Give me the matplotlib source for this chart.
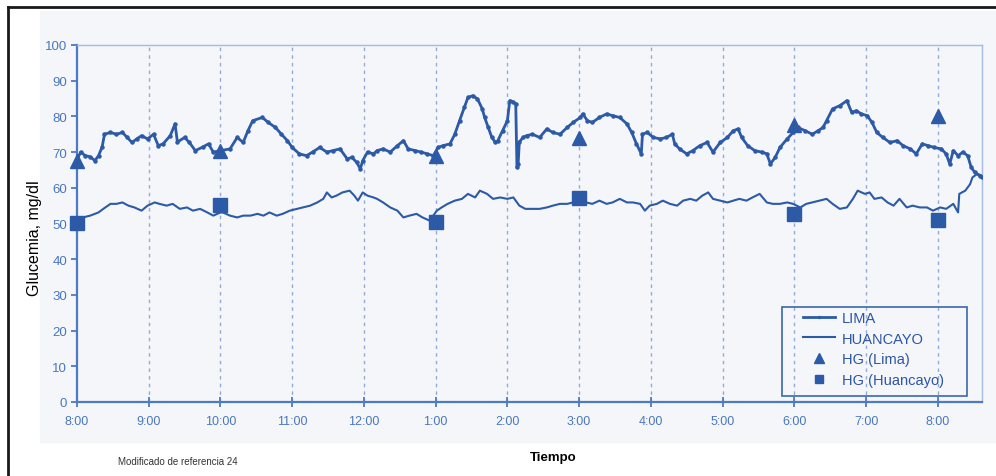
import matplotlib
matplotlib.use("Agg")
import matplotlib.pyplot as plt
from matplotlib.patches import Rectangle
from matplotlib.lines import Line2D

plt.rcParams['font.family'] = ['Liberation Sans', 'DejaVu Sans']

# minutes after 8:00 and glucose values (mg/dl)
lima_min = [0, 3, 7, 11, 15, 18, 21, 23, 28, 33, 38, 42, 46, 50, 54, 59, 64, 68, 72, 78,
            82, 84, 90, 94, 99, 105, 110, 114, 120, 128, 134, 139, 143, 147, 155, 160, 166, 171, 176, 180,
            186, 192, 197, 203, 209, 214, 220, 226, 230, 234, 237, 239, 243, 248, 251, 256, 262, 268, 273, 277,
            283, 288, 293, 298, 302, 306, 312, 316, 320, 324, 327, 331, 335, 339, 341, 344, 347, 350, 352, 356,
            360, 362, 365, 367, 368, 369, 370, 373, 376, 381, 387, 393, 398, 404, 410, 415, 421, 423, 427, 431,
            437, 443, 448, 454, 460, 464, 468, 472, 473, 477, 482, 488, 493, 498, 500, 504, 510, 515, 521, 527,
            532, 538, 544, 549, 553, 556, 561, 567, 573, 577, 580, 584, 588, 594, 599, 603, 609, 615, 620, 624,
            627, 632, 638, 644, 648, 652, 656, 661, 665, 669, 674, 680, 686, 691, 697, 702, 707, 712, 717, 723,
            727, 730, 733, 737, 741, 745, 748, 751, 755, 757]
lima_val = [67.8, 70.0, 69.0, 68.7, 67.6, 69.0, 71.4, 75.0, 75.5, 75.0, 75.5, 74.1, 72.7, 73.7, 74.6, 73.7, 75.0, 71.8, 72.3, 74.6,
            77.9, 72.8, 74.1, 72.7, 70.4, 71.4, 72.3, 70.0, 70.4, 70.9, 74.1, 72.7, 76.0, 78.8, 79.7, 78.3, 76.9, 75.0, 73.2, 71.3,
            69.5, 69.0, 70.0, 71.3, 70.0, 70.4, 70.9, 68.1, 68.5, 67.1, 65.3, 67.6, 70.0, 69.5, 70.4, 70.9, 70.0, 71.8, 73.2, 70.9,
            70.4, 70.0, 69.5, 69.0, 71.3, 71.8, 72.3, 75.0, 78.8, 82.5, 85.3, 85.8, 84.9, 82.1, 79.7, 76.9, 74.1, 72.7, 73.2, 76.0,
            78.8, 84.4, 84.0, 83.5, 65.7, 66.7, 72.8, 74.1, 74.6, 75.0, 74.1, 76.5, 75.5, 75.0, 76.9, 78.3, 79.7, 80.7, 78.8, 78.3,
            79.7, 80.7, 80.2, 79.7, 77.9, 75.5, 72.3, 69.5, 75.0, 75.5, 74.1, 73.7, 74.1, 75.0, 72.3, 70.9, 69.5, 70.4, 71.8, 72.7,
            70.0, 72.7, 74.1, 76.0, 76.5, 74.1, 71.8, 70.4, 70.0, 69.5, 66.7, 68.5, 71.3, 73.7, 75.5, 76.9, 76.0, 75.0, 76.0, 76.9,
            78.8, 82.1, 83.0, 84.4, 81.1, 81.6, 80.7, 80.2, 78.3, 75.5, 74.1, 72.7, 73.2, 71.8, 70.9, 69.5, 72.3, 71.8, 71.3, 70.9,
            69.5, 66.7, 70.4, 69.0, 70.0, 69.0, 65.7, 64.3, 63.4, 63.0]

huan_min = [0, 5, 11, 18, 22, 28, 33, 38, 43, 48, 54, 59, 65, 69, 75, 80, 86, 92, 97, 103,
            109, 114, 120, 122, 128, 134, 139, 145, 151, 156, 161, 167, 172, 178, 184, 189, 195, 201, 206, 209,
            213, 217, 222, 228, 232, 235, 239, 243, 248, 251, 256, 262, 268, 273, 278, 284, 289, 295, 301, 305,
            310, 316, 322, 327, 333, 337, 343, 348, 354, 360, 365, 370, 375, 381, 387, 393, 398, 404, 410, 415,
            421, 426, 431, 437, 443, 448, 454, 460, 465, 471, 475, 479, 485, 490, 496, 502, 507, 513, 518, 523,
            528, 532, 538, 544, 549, 554, 560, 565, 571, 577, 582, 588, 594, 599, 605, 610, 615, 621, 627, 632,
            638, 644, 649, 653, 659, 663, 667, 673, 678, 683, 688, 694, 699, 705, 711, 716, 722, 727, 733, 737,
            738, 743, 747, 749, 753, 757]
huan_val = [50.8, 51.7, 52.2, 53.1, 54.1, 55.5, 55.5, 55.9, 55.0, 54.5, 53.6, 55.0, 55.9, 55.5, 55.0, 55.5, 54.1, 54.5, 53.6, 54.1,
            53.1, 52.2, 53.1, 53.1, 52.2, 51.7, 52.2, 52.2, 52.7, 52.2, 53.1, 52.2, 52.7, 53.6, 54.1, 54.5, 55.0, 55.9, 56.9, 58.7,
            57.3, 57.8, 58.7, 59.2, 57.8, 56.4, 58.7, 57.8, 57.3, 56.9, 55.9, 54.5, 53.6, 51.7, 52.2, 52.7, 51.7, 50.8, 53.6, 54.5,
            55.5, 56.4, 56.9, 58.3, 57.3, 59.2, 58.3, 56.9, 57.3, 56.9, 57.3, 55.0, 54.1, 54.1, 54.1, 54.5, 55.0, 55.5, 55.5, 55.9,
            55.5, 55.9, 55.5, 56.4, 55.5, 55.9, 56.9, 55.9, 55.9, 55.5, 53.6, 55.0, 55.5, 56.4, 55.5, 55.0, 56.4, 56.9, 56.4, 57.8,
            58.7, 56.9, 56.4, 55.9, 56.4, 56.9, 56.4, 57.3, 58.3, 55.9, 55.5, 55.5, 55.9, 55.5, 54.5, 55.5, 55.9, 56.4, 56.9, 55.5,
            54.1, 54.5, 56.9, 59.2, 58.3, 58.7, 56.9, 57.3, 55.9, 55.0, 56.9, 54.5, 55.0, 54.5, 54.5, 53.6, 54.5, 54.1, 55.5, 53.1,
            58.3, 59.2, 61.0, 62.9, 63.9, 63.4]

hg_min = [0, 120, 300, 420, 600, 720]
hg_lima = [67.6, 70.3, 68.8, 74.0, 77.7, 80.2]
hg_huan = [50.1, 55.3, 50.3, 57.2, 52.8, 51.1]

tick_labels = ['8:00', '9:00', '10:00', '11:00', '12:00', '1:00', '2:00', '3:00',
               '4:00', '5:00', '6:00', '7:00', '8:00']

line_c = '#2c5aa7'
axis_c = '#4d7bc3'
text_c = '#4a77bf'

W, H = 996, 477
fig = plt.figure(figsize=(W / 100, H / 100), dpi=100)
fig.patch.set_facecolor('white')

# light panel behind the chart and the black frame of the scan
fig.patches.append(Rectangle((40 / W, 1 - 443 / H), (W - 40) / W, (443 - 12) / H,
                             transform=fig.transFigure, color='#f4f6fa', zorder=-10))
fig.lines.append(Line2D([8 / W, 8 / W], [0, 1 - 8 / H], transform=fig.transFigure, color='#1a1a1a', lw=2, zorder=-5))
fig.lines.append(Line2D([8 / W, 1], [1 - 8 / H, 1 - 8 / H], transform=fig.transFigure, color='#1a1a1a', lw=2, zorder=-5))

ax = fig.add_axes([77 / W, 1 - 403 / H, (982 - 77) / W, (403 - 46) / H])
ax.patch.set_visible(False)

ax.plot(lima_min, lima_val, color=line_c, lw=2.0, marker='o', ms=2.2, zorder=3, label='LIMA')
ax.plot(huan_min, huan_val, color=line_c, lw=1.5, zorder=3, label='HUANCAYO')
ax.plot(hg_min, hg_lima, '^', ms=10, color=line_c, ls='none', clip_on=False, zorder=4, label='HG (Lima)')
ax.plot(hg_min, hg_huan, 's', ms=9.5, color=line_c, ls='none', clip_on=False, zorder=4, label='HG (Huancayo)')

ax.set_xlim(0, 757)
ax.set_ylim(0, 100)
ax.set_xticks(hg_min[:1] + list(range(60, 721, 60)))
ax.set_xticklabels(tick_labels)
ax.set_yticks(range(0, 101, 10))

for m in range(60, 721, 60):
    ax.axvline(m, color='#93acd6', lw=1, ls=(0, (2.5, 3)), zorder=1)

for s in ['left', 'bottom']:
    ax.spines[s].set_color(axis_c)
    ax.spines[s].set_linewidth(1.6)
for s in ['top', 'right']:
    ax.spines[s].set_color('#a5bce0')
    ax.spines[s].set_linewidth(1)

ax.tick_params(axis='x', direction='inout', length=7, width=1.3, color=axis_c,
               labelcolor=text_c, labelsize=9, pad=6)
ax.tick_params(axis='y', direction='out', length=4, width=1.3, color=axis_c,
               labelcolor=text_c, labelsize=9.5, pad=3)

# legend box
ax.add_patch(Rectangle(((782 - 77) / 905, (403 - 397) / 357), (967 - 782) / 905, (397 - 308) / 357,
                       transform=ax.transAxes, fill=False, edgecolor='#3b66b0', lw=1.2, zorder=5))
leg = ax.legend(loc='upper left', bbox_to_anchor=((803 - 77) / 905, (403 - 312) / 357),
                frameon=False, fontsize=10.5, borderpad=0, borderaxespad=0, markerscale=0.65,
                handlelength=2.2, handletextpad=0.45, labelspacing=0.45)
for t in leg.get_texts():
    t.set_color('#2b55a5')

fig.text(35 / W, 1 - 238 / H, 'Glucemia, mg/dl', rotation=90, ha='center', va='center', fontsize=11.5)
fig.text(553 / W, 1 - 458 / H, 'Tiempo', ha='center', va='center', fontsize=9.5, fontweight='bold')
fig.text(178 / W, 1 - 462 / H, 'Modificado de referencia 24', ha='center', va='center', fontsize=7, color='#333333')

fig.savefig('out.png', dpi=100)
